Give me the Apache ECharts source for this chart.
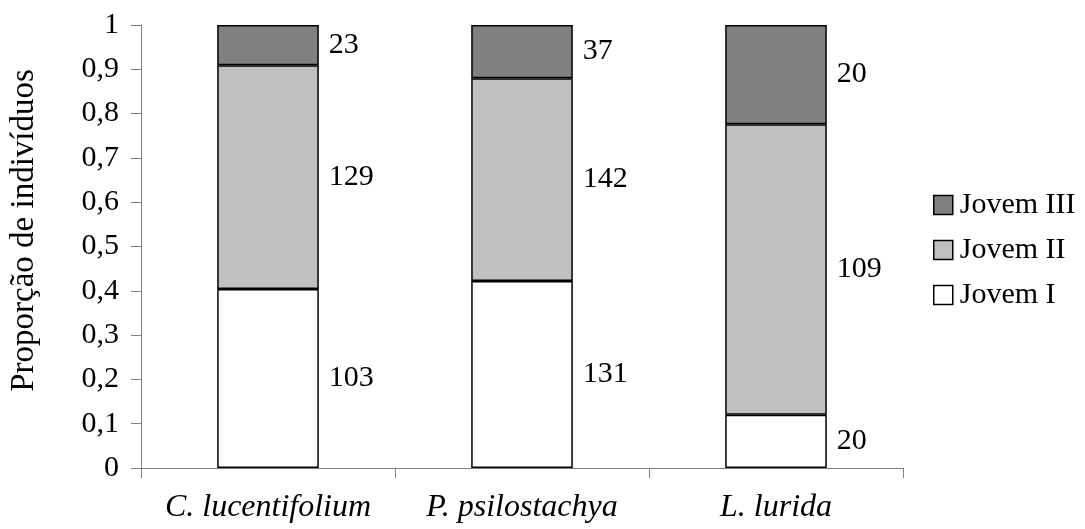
<!DOCTYPE html>
<html>
<head>
<meta charset="utf-8">
<script src="https://cdn.jsdelivr.net/npm/echarts@6/dist/echarts.min.js"></script>
<style>
  html, body { margin: 0; padding: 0; background: #fff; }
  #chart { width: 1085px; height: 529px; }
</style>
</head>
<body>
<div id="chart"></div>
<script>
// categorias (espécies)
var especies = ['C. lucentifolium', 'P. psilostachya', 'L. lurida'];

// proporções
var propJovemI   = [0.404, 0.422, 0.120];
var propJovemII  = [0.505, 0.458, 0.656];
var propJovemIII = [0.091, 0.120, 0.224];

// número de indivíduos (rótulos)
var nJovemI   = [103, 131, 20];
var nJovemII  = [129, 142, 109];
var nJovemIII = [23, 37, 20];

var yTicks = [0, 0.1, 0.2, 0.3, 0.4, 0.5, 0.6, 0.7, 0.8, 0.9, 1];

var fonte = "'Liberation Serif', 'Times New Roman', serif";

var myChart = echarts.init(document.getElementById('chart'));

function serie(nome, dados, contagens, cor) {
    return {
        name: nome,
        type: 'bar',
        stack: 'total',
        barWidth: '40%',
        data: dados,
        itemStyle: { color: cor, borderColor: '#000', borderWidth: 1.5 },
        label: {
            show: true,
            position: 'right',
            distance: 10,
            color: '#000',
            fontFamily: fonte,
            fontSize: 30,
            formatter: function (p) { return contagens[p.dataIndex]; }
        }
    };
}

var option = {
    animation: false,
    backgroundColor: '#fff',
    grid: { left: 141, right: 182, top: 25, bottom: 61 },
    legend: {
        data: ['Jovem III', 'Jovem II', 'Jovem I'],
        orient: 'vertical',
        left: 928,
        top: 185,
        icon: 'rect',
        itemWidth: 19,
        itemHeight: 19,
        itemGap: 15,
        itemStyle: { borderColor: '#000', borderWidth: 1.5 },
        textStyle: { fontFamily: fonte, fontSize: 30, color: '#000', padding: [0, 0, 0, 2] }
    },
    xAxis: {
        type: 'category',
        data: especies,
        axisLine: { lineStyle: { color: '#808080', width: 1 } },
        axisTick: { show: true, length: 10, lineStyle: { color: '#808080' } },
        axisLabel: {
            interval: 0,
            margin: 24,
            color: '#000',
            fontFamily: fonte,
            fontSize: 32,
            fontStyle: 'italic'
        }
    },
    yAxis: {
        type: 'value',
        min: 0,
        max: 1,
        interval: 0.1,
        name: 'Proporção de indivíduos',
        nameLocation: 'middle',
        nameGap: 100,
        nameTextStyle: { fontFamily: fonte, fontSize: 33, color: '#000', padding: [0, 0, 0, 32] },
        splitLine: { show: false },
        axisLine: { show: true, lineStyle: { color: '#808080', width: 1 } },
        axisTick: { show: true, length: 10, lineStyle: { color: '#808080' } },
        axisLabel: {
            margin: 22,
            color: '#000',
            fontFamily: fonte,
            fontSize: 30,
            customValues: yTicks,
            formatter: function (v) { return String(Math.round(v * 10) / 10).replace('.', ','); }
        }
    },
    series: [
        serie('Jovem I', propJovemI, nJovemI, '#ffffff'),
        serie('Jovem II', propJovemII, nJovemII, '#c0c0c0'),
        serie('Jovem III', propJovemIII, nJovemIII, '#808080')
    ]
};

myChart.setOption(option);
</script>
</body>
</html>
